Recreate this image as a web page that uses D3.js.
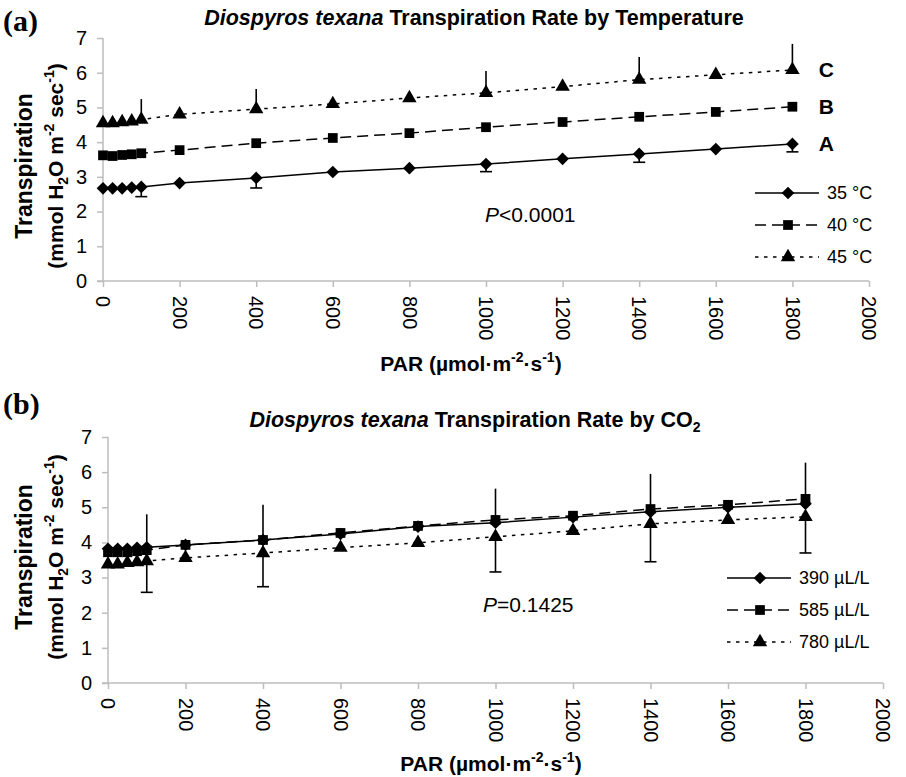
<!DOCTYPE html>
<html lang="en">
  <head>
    <meta charset="UTF-8" />
    <title>Diospyros texana Transpiration</title>
    <script src="https://cdnjs.cloudflare.com/ajax/libs/d3/7.8.5/d3.min.js"></script>
    <style>
      body {
        margin: 0;
        background: #fff;
      }
      text {
        font-family: "Liberation Sans", Arial, sans-serif;
        fill: #000;
      }
      .panel-letter {
        font-family: "Liberation Serif", "Times New Roman", serif;
        font-weight: bold;
        font-size: 30px;
      }
      .title {
        font-size: 21.5px;
        font-weight: bold;
      }
      .axis-title {
        font-size: 21px;
        font-weight: bold;
      }
      .axis path,
      .axis line {
        stroke: #bdbdbd;
        stroke-width: 1.5;
      }
      .axis text {
        font-size: 20px;
      }
      .series {
        fill: none;
        stroke: #000;
        stroke-width: 1.5;
      }
      .err {
        stroke: #000;
        stroke-width: 1.6;
      }
      .legend text {
        font-size: 18px;
      }
      .pval {
        font-size: 21px;
      }
      .group-letter {
        font-size: 21px;
        font-weight: bold;
      }
    </style>
  </head>
  <body>
    <div id="chart"></div>
    <script>
      // PAR levels (x values)
      const parLevels = [0, 25, 50, 75, 100, 200, 400, 600, 800, 1000, 1200, 1400, 1600, 1800];
      const xTicks = [0, 200, 400, 600, 800, 1000, 1200, 1400, 1600, 1800, 2000];
      const yTicks = [0, 1, 2, 3, 4, 5, 6, 7];

      // Panel (a): temperature
      const t35 = [2.67, 2.67, 2.67, 2.69, 2.71, 2.82, 2.97, 3.14, 3.25, 3.37, 3.52, 3.66, 3.8, 3.95];
      const t40 = [3.62, 3.6, 3.63, 3.65, 3.68, 3.77, 3.97, 4.12, 4.26, 4.43, 4.58, 4.73, 4.87, 5.02];
      const t45 = [4.55, 4.55, 4.58, 4.6, 4.65, 4.8, 4.95, 5.1, 5.27, 5.42, 5.6, 5.8, 5.94, 6.08];

      // Panel (b): CO2
      const c390 = [3.82, 3.82, 3.82, 3.85, 3.86, 3.93, 4.07, 4.24, 4.45, 4.56, 4.72, 4.87, 5.0, 5.1];
      const c585 = [3.72, 3.72, 3.72, 3.75, 3.78, 3.93, 4.07, 4.27, 4.47, 4.64, 4.76, 4.95, 5.07, 5.24];
      const c780 = [3.38, 3.38, 3.42, 3.44, 3.47, 3.56, 3.7, 3.85, 3.99, 4.16, 4.33, 4.53, 4.64, 4.73];

      // error bars (only shown at some PAR levels)
      const errPar = [100, 400, 1000, 1400, 1800];
      const t45Up = [0.59, 0.58, 0.63, 0.65, 0.75];
      const t35Down = [0.28, 0.29, 0.22, 0.24, 0.23];
      const c390Up = [0.94, 1.0, 0.97, 1.08, 1.17];
      const c780Down = [0.89, 0.96, 1.0, 1.08, 1.03];

      const tempLabels = ["35 °C", "40 °C", "45 °C"];
      const co2Labels = ["390 µL/L", "585 µL/L", "780 µL/L"];
      const groupLetters = ["A", "B", "C"];

      const width = 906;
      const height = 777;

      const svg = d3
        .select("#chart")
        .append("svg")
        .attr("width", width)
        .attr("height", height);

      const styles = [
        { dash: null, marker: "diamond" },
        { dash: "11,6", marker: "square" },
        { dash: "3.5,5.5", marker: "triangle" },
      ];

      function markerPath(type) {
        if (type === "diamond") return d3.symbol().type(d3.symbolSquare).size(80)();
        if (type === "square") return d3.symbol().type(d3.symbolSquare).size(95)();
        return d3.symbol().type(d3.symbolTriangle).size(90)();
      }
      function markerRotate(type) {
        return type === "diamond" ? " rotate(45)" : "";
      }

      function drawPanel(p) {
        const g = svg.append("g");
        const x = d3.scaleLinear().domain([0, 2000]).range([p.left, p.right]);
        const y = d3.scaleLinear().domain([0, 7]).range([p.bottom, p.top]);

        // axes
        const gx = g
          .append("g")
          .attr("class", "axis")
          .attr("transform", `translate(0,${p.bottom})`)
          .call(
            d3.axisBottom(x).tickValues(xTicks).tickSize(6).tickSizeOuter(0).tickFormat(d3.format("d"))
          );
        gx.selectAll(".tick text")
          .attr("transform", "rotate(90)")
          .attr("x", 15)
          .attr("y", 0)
          .attr("dy", "0.36em")
          .style("text-anchor", "start");

        const gy = g
          .append("g")
          .attr("class", "axis")
          .attr("transform", `translate(${p.left},0)`)
          .call(
            d3
              .axisLeft(y)
              .tickValues(yTicks)
              .tickSize(6)
              .tickSizeOuter(0)
              .tickPadding(10)
              .tickFormat(d3.format("d"))
          );
        gy.select(".domain").remove();
        gy.append("line")
          .attr("x1", 0)
          .attr("x2", 0)
          .attr("y1", y(7))
          .attr("y2", y(0));
        gx.select(".domain").attr("d", `M${p.left - 6},0H${p.right}`);
        gx.selectAll("text").style("fill", "#000");
        gy.selectAll("text").style("fill", "#000");

        // panel letter
        g.append("text").attr("class", "panel-letter").attr("x", 3).attr("y", p.letterY).text(p.letter);

        // title
        const title = g
          .append("text")
          .attr("class", "title")
          .attr("x", p.titleX)
          .attr("y", p.titleY)
          .attr("text-anchor", "middle");
        title.append("tspan").style("font-style", "italic").text("Diospyros texana");
        title.append("tspan").text(" " + p.titleRest);
        if (p.titleSub) {
          title.append("tspan").attr("dy", 5).style("font-size", "14px").text(p.titleSub);
        }

        // y axis title
        const yt = g
          .append("text")
          .attr("class", "axis-title")
          .attr("transform", `translate(${p.ytX},${p.ytY}) rotate(-90)`)
          .attr("text-anchor", "middle");
        yt.append("tspan").attr("x", 0).attr("dy", 0).style("font-size", "23px").text("Transpiration");
        yt.append("tspan").attr("x", 0).attr("dy", 31).text("(mmol H");
        yt.append("tspan").attr("dy", 5).style("font-size", "14px").text("2");
        yt.append("tspan").attr("dy", -5).text("O m");
        yt.append("tspan").attr("dy", -9).style("font-size", "14px").text("-2");
        yt.append("tspan").attr("dy", 9).text(" sec");
        yt.append("tspan").attr("dy", -9).style("font-size", "14px").text("-1");
        yt.append("tspan").attr("dy", 9).text(")");

        // x axis title
        const xt = g
          .append("text")
          .attr("class", "axis-title")
          .attr("x", p.xtX)
          .attr("y", p.xtY)
          .attr("text-anchor", "middle");
        xt.append("tspan").text("PAR (µmol·m");
        xt.append("tspan").attr("dy", -9).style("font-size", "14px").text("-2");
        xt.append("tspan").attr("dy", 9).text("·s");
        xt.append("tspan").attr("dy", -9).style("font-size", "14px").text("-1");
        xt.append("tspan").attr("dy", 9).text(")");

        // series
        const line = d3
          .line()
          .x((d) => x(d[0]))
          .y((d) => y(d[1]));

        p.series.forEach((vals, i) => {
          const pts = parLevels.map((par, j) => [par, vals[j]]);
          g.append("path")
            .datum(pts)
            .attr("class", "series")
            .attr("d", line)
            .attr("stroke-dasharray", styles[i].dash);
        });

        // error bars
        p.errors.forEach((e) => {
          const vals = p.series[e.series];
          const eb = g
            .selectAll(null)
            .data(errPar.map((par, j) => ({ par, v: vals[parLevels.indexOf(par)], e: e.values[j] })))
            .enter()
            .append("g");
          eb.append("line")
            .attr("class", "err")
            .attr("x1", (d) => x(d.par))
            .attr("x2", (d) => x(d.par))
            .attr("y1", (d) => y(d.v))
            .attr("y2", (d) => y(d.v + e.dir * d.e));
          if (e.cap) {
            eb.append("line")
              .attr("class", "err")
              .attr("x1", (d) => x(d.par) - 6)
              .attr("x2", (d) => x(d.par) + 6)
              .attr("y1", (d) => y(d.v + e.dir * d.e))
              .attr("y2", (d) => y(d.v + e.dir * d.e));
          }
        });

        // markers
        p.series.forEach((vals, i) => {
          const type = styles[i].marker;
          g.selectAll(null)
            .data(parLevels.map((par, j) => [par, vals[j]]))
            .enter()
            .append("path")
            .attr("d", markerPath(type))
            .attr("transform", (d) => `translate(${x(d[0])},${y(d[1])})` + markerRotate(type))
            .attr("fill", "#000");
        });

        // legend
        p.labels.forEach((lab, i) => {
          const ly = p.legendY + i * p.legendStep;
          const lg = g.append("g").attr("class", "legend");
          lg.append("line")
            .attr("class", "series")
            .attr("x1", p.legendX)
            .attr("x2", p.legendX + 64)
            .attr("y1", ly)
            .attr("y2", ly)
            .attr("stroke-dasharray", styles[i].dash);
          lg.append("path")
            .attr("d", markerPath(styles[i].marker))
            .attr("transform", `translate(${p.legendX + 33},${ly})` + markerRotate(styles[i].marker))
            .attr("fill", "#000");
          lg.append("text")
            .attr("x", p.legendX + 72)
            .attr("y", ly)
            .attr("dy", "0.35em")
            .text(lab);
        });

        // p value
        const pv = g.append("text").attr("class", "pval").attr("x", p.pX).attr("y", p.pY).attr("dy", "0.35em");
        pv.append("tspan").style("font-style", "italic").text("P");
        pv.append("tspan").text(p.pText);

        // group letters
        if (p.letters) {
          p.letters.forEach((l, i) => {
            const vals = p.series[i];
            g.append("text")
              .attr("class", "group-letter")
              .attr("x", x(1800) + 34)
              .attr("y", y(vals[vals.length - 1]))
              .attr("dy", "0.36em")
              .attr("text-anchor", "middle")
              .text(l);
          });
        }
      }

      drawPanel({
        letter: "(a)",
        letterY: 31,
        left: 103,
        right: 869,
        top: 38,
        bottom: 281,
        titleX: 474,
        titleY: 25,
        titleRest: "Transpiration Rate by Temperature",
        ytX: 32,
        ytY: 166,
        xtX: 471,
        xtY: 371,
        series: [t35, t40, t45],
        errors: [
          { series: 2, values: t45Up, dir: 1, cap: false },
          { series: 0, values: t35Down, dir: -1, cap: true },
        ],
        labels: tempLabels,
        legendX: 755,
        legendY: 193,
        legendStep: 32,
        pX: 485,
        pY: 215,
        pText: "<0.0001",
        letters: groupLetters,
      });

      drawPanel({
        letter: "(b)",
        letterY: 414,
        left: 108,
        right: 883,
        top: 437,
        bottom: 683,
        titleX: 475,
        titleY: 427,
        titleRest: "Transpiration Rate by CO",
        titleSub: "2",
        ytX: 32,
        ytY: 557,
        xtX: 491,
        xtY: 771,
        series: [c390, c585, c780],
        errors: [
          { series: 0, values: c390Up, dir: 1, cap: false },
          { series: 2, values: c780Down, dir: -1, cap: true },
        ],
        labels: co2Labels,
        legendX: 727,
        legendY: 578,
        legendStep: 32,
        pX: 483,
        pY: 605,
        pText: "=0.1425",
        letters: null,
      });
    </script>
  </body>
</html>
